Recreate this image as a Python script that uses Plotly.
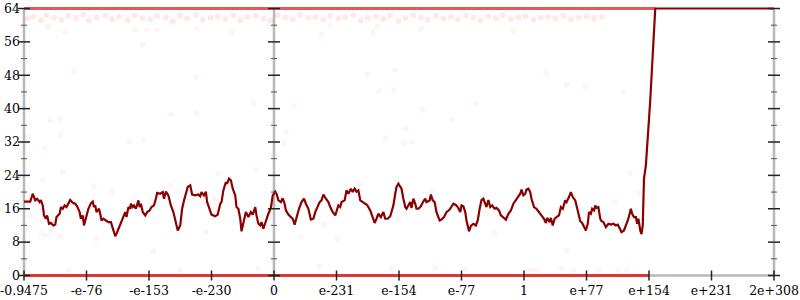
import plotly.graph_objects as go

# ---- axis labels ----
x_tick_pos = [0, 1, 2, 3, 4, 5, 6, 7, 8, 9, 10, 11, 12]
x_tick_labels = ["-0.9475", "-e-76", "-e-153", "-e-230", "0", "e-231", "e-154",
                 "e-77", "1", "e+77", "e+154", "e+231", "2e+308"]
x_range = [0, 12]
y_range = [0, 64]
y_view = [-0.6, 64.6]           # tiny pad so lines at 0 / 64 are not clipped
y_major = [0, 8, 16, 24, 32, 40, 48, 56, 64]
y_minor = [4, 12, 20, 28, 36, 44, 52, 60]
vertical_axes_at = [0, 4, 12]   # positions (in x units) of the three vertical axes

# ---- main error line (position along axis, bits of error) ----
err_x = [0, 0.1, 0.14, 0.18, 0.21, 0.25, 0.27, 0.3, 0.32, 0.35, 0.37, 0.4, 0.43, 0.47, 0.5,
         0.52, 0.57, 0.59, 0.62, 0.65, 0.68, 0.74, 0.78, 0.82, 0.85, 0.89, 0.91, 0.94, 0.96,
         0.99, 1.03, 1.07, 1.1, 1.12, 1.14, 1.16, 1.2, 1.22, 1.24, 1.27, 1.31, 1.35, 1.39,
         1.42, 1.46, 1.48, 1.53, 1.56, 1.59, 1.62, 1.64, 1.67, 1.7, 1.71, 1.74, 1.76, 1.79,
         1.83, 1.85, 1.87, 1.9, 1.94, 1.97, 2.01, 2.04, 2.08, 2.11, 2.13, 2.18, 2.22, 2.24,
         2.27, 2.31, 2.35, 2.39, 2.43, 2.46, 2.5, 2.53, 2.56, 2.59, 2.62, 2.66, 2.69, 2.74,
         2.79, 2.82, 2.84, 2.88, 2.91, 2.93, 2.98, 3.0, 3.06, 3.1, 3.14, 3.16, 3.19, 3.22,
         3.23, 3.25, 3.28, 3.31, 3.34, 3.38, 3.4, 3.43, 3.46, 3.48, 3.51, 3.55, 3.59, 3.63,
         3.66, 3.7, 3.72, 3.75, 3.78, 3.8, 3.83, 3.87, 3.91, 3.95, 3.98, 4.02, 4.04, 4.07,
         4.11, 4.14, 4.17, 4.19, 4.23, 4.27, 4.3, 4.33, 4.36, 4.4, 4.44, 4.48, 4.51, 4.55,
         4.59, 4.63, 4.66, 4.69, 4.73, 4.76, 4.79, 4.83, 4.87, 4.9, 4.94, 4.98, 5.0, 5.03,
         5.06, 5.08, 5.13, 5.16, 5.19, 5.23, 5.26, 5.29, 5.32, 5.35, 5.38, 5.42, 5.46, 5.49,
         5.54, 5.57, 5.61, 5.64, 5.67, 5.71, 5.75, 5.78, 5.82, 5.86, 5.88, 5.91, 5.94, 5.96,
         5.99, 6.02, 6.04, 6.07, 6.1, 6.12, 6.15, 6.18, 6.2, 6.23, 6.26, 6.28, 6.31, 6.35,
         6.39, 6.42, 6.44, 6.49, 6.51, 6.54, 6.57, 6.6, 6.65, 6.68, 6.72, 6.76, 6.81, 6.84,
         6.87, 6.91, 6.94, 6.98, 7.0, 7.03, 7.06, 7.08, 7.12, 7.15, 7.19, 7.23, 7.26, 7.29,
         7.32, 7.35, 7.38, 7.4, 7.43, 7.46, 7.49, 7.53, 7.56, 7.6, 7.63, 7.67, 7.71, 7.75,
         7.79, 7.83, 7.87, 7.9, 7.94, 7.96, 7.99, 8.02, 8.04, 8.07, 8.1, 8.12, 8.16, 8.2,
         8.24, 8.28, 8.32, 8.35, 8.37, 8.41, 8.43, 8.46, 8.49, 8.52, 8.56, 8.59, 8.62, 8.66,
         8.68, 8.72, 8.75, 8.78, 8.82, 8.84, 8.88, 8.9, 8.93, 8.97, 8.99, 9.02, 9.04, 9.07,
         9.09, 9.12, 9.14, 9.16, 9.19, 9.22, 9.24, 9.27, 9.31, 9.35, 9.39, 9.43, 9.47, 9.5,
         9.54, 9.56, 9.6, 9.63, 9.67, 9.71, 9.73, 9.76, 9.79, 9.81, 9.83, 9.86, 9.88, 9.9,
         9.92, 9.95, 10.02, 10.1, 12]
err_y = [17.7, 17.7, 19.6, 18.0, 18.4, 17.6, 18.1, 16.8, 14.4, 13.6, 14.4, 12.4, 12.6, 12.0, 12.2,
         14.0, 14.8, 16.4, 16.0, 16.8, 16.4, 18.1, 17.4, 17.2, 16.6, 15.2, 13.6, 14.4, 12.0,
         14.0, 16.0, 17.3, 17.7, 16.4, 16.8, 15.2, 16.0, 14.8, 13.2, 13.6, 13.2, 12.8, 12.8,
         11.2, 9.4, 10.0, 12.0, 12.8, 14.4, 15.2, 14.0, 16.4, 16.0, 17.2, 16.4, 16.8, 16.0,
         18.0, 16.4, 17.2, 15.2, 14.4, 15.2, 15.6, 16.4, 16.8, 18.4, 19.8, 19.6, 20.0, 18.4,
         20.1, 19.2, 16.8, 15.2, 12.8, 10.8, 12.0, 16.0, 18.0, 20.0, 21.2, 21.6, 19.4, 19.2,
         19.4, 19.0, 20.0, 19.2, 20.1, 17.6, 15.2, 14.6, 14.2, 14.6, 17.2, 17.6, 20.4, 21.6,
         22.4, 22.0, 23.2, 22.8, 20.8, 19.2, 16.4, 16.0, 13.6, 10.6, 12.4, 15.2, 14.0, 15.2,
         14.6, 16.4, 14.4, 12.4, 12.0, 12.8, 11.2, 13.2, 14.8, 16.2, 19.2, 20.1, 19.6, 18.0,
         17.6, 18.5, 17.2, 15.6, 14.6, 14.0, 13.6, 12.2, 14.0, 16.0, 17.6, 18.4, 17.2, 16.0,
         13.4, 13.6, 15.2, 16.4, 17.6, 18.0, 19.4, 18.4, 17.6, 16.4, 15.2, 14.4, 15.6, 16.8,
         16.4, 17.6, 18.0, 20.4, 19.6, 20.8, 20.0, 20.8, 20.1, 20.4, 18.0, 17.6, 17.2, 16.9,
         15.6, 14.4, 12.6, 13.6, 14.8, 14.0, 15.2, 13.6, 13.6, 14.2, 15.2, 16.8, 19.6, 21.2,
         22.0, 21.4, 20.8, 18.4, 16.4, 16.0, 16.9, 17.6, 16.2, 18.4, 17.2, 16.0, 16.0, 16.6,
         17.8, 18.4, 17.6, 18.0, 19.4, 18.0, 17.6, 15.2, 13.2, 13.4, 14.0, 15.2, 15.8, 16.4,
         17.2, 16.9, 16.4, 15.2, 16.8, 16.6, 15.2, 13.2, 10.6, 11.9, 12.4, 12.0, 13.2, 16.0,
         18.1, 18.4, 17.2, 16.4, 18.1, 16.4, 16.8, 16.0, 16.2, 15.6, 14.4, 14.0, 13.4, 14.8,
         15.6, 17.2, 18.0, 18.8, 19.6, 20.6, 19.2, 19.6, 20.6, 20.8, 20.0, 18.4, 16.4, 16.0,
         15.2, 14.4, 13.6, 12.6, 13.8, 12.8, 13.8, 12.0, 13.6, 14.0, 14.4, 16.4, 16.0, 18.0,
         17.6, 18.8, 20.0, 18.8, 18.0, 16.8, 14.4, 13.0, 12.6, 11.6, 10.8, 12.4, 15.2, 14.8,
         16.0, 15.6, 16.8, 16.2, 16.4, 13.6, 13.0, 12.8, 11.6, 12.4, 12.2, 12.4, 12.0, 12.2,
         11.2, 10.4, 10.8, 12.0, 13.6, 16.0, 14.8, 14.0, 14.0, 12.4, 13.6, 10.8, 9.9, 12.0,
         23.2, 26.4, 42.0, 64.0, 64.0]

# ---- dense sample bands (saturated at 64 and exact at 0) ----
top_band_x = [0, 10.1]
top_band_y = [64, 64]
bottom_band_x = [0, 10.0]
bottom_band_y = [0, 0]

# row of samples just under the top
row_x = [0.06, 0.15, 0.27, 0.36, 0.48, 0.6, 0.71, 0.83, 0.95, 1.04, 1.16, 1.3, 1.41, 1.52, 1.66,
         1.77, 1.9, 2.02, 2.13, 2.27, 2.38, 2.5, 2.61, 2.75, 2.86, 2.99, 3.1, 3.22, 3.35, 3.46,
         3.58, 3.71, 3.83, 3.94, 4.06, 4.19, 4.3, 4.42, 4.55, 4.66, 4.79, 4.9, 5.03, 5.14, 5.27,
         5.39, 5.5, 5.63, 5.75, 5.86, 5.99, 6.1, 6.23, 6.35, 6.46, 6.59, 6.71, 6.83, 6.94, 7.07,
         7.19, 7.3, 7.43, 7.55, 7.66, 7.79, 7.91, 8.02, 8.15, 8.27, 8.39, 8.5, 8.63, 8.75, 8.87,
         9.0, 9.12, 9.25]
row_y = [61.6, 62.1, 61.2, 62.4, 61.8, 61.3, 62.2, 61.7, 62.5, 61.1, 61.9, 62.3, 61.5, 62.0, 61.2,
         62.4, 61.7, 61.4, 62.2, 61.9, 61.0, 62.3, 61.6, 62.5, 61.3, 61.8, 62.1, 61.5, 62.4, 61.2,
         61.9, 62.2, 61.6, 61.1, 62.3, 61.8, 61.4, 62.5, 61.7, 62.0, 61.3, 62.2, 61.6, 61.9, 62.4,
         61.2, 61.8, 62.1, 61.5, 62.3, 61.0, 61.7, 62.4, 61.9, 61.3, 62.2, 61.6, 62.0, 61.4, 62.3,
         61.8, 61.2, 62.1, 61.7, 62.4, 61.5, 61.9, 62.2, 61.3, 61.8, 62.0, 61.6, 62.3, 61.4, 61.9,
         62.1, 61.7, 62.0]

# sparse individual samples
pts_x = [0.384, 0.656, 1.899, 0.8, 2.752, 1.776, 1.963, 2.123, 2.763, 3.333, 4.896, 4.763, 5.653,
         5.579, 6.352, 7.829, 5.499, 5.936, 5.68, 5.925, 8.352, 8.683, 8.976, 9.589, 3.669, 0.416,
         0.576, 2.347, 2.763, 0.059, 0.587, 0.325, 1.68, 1.909, 0.619, 3.109, 3.712, 0.299, 4.32,
         7.227, 6.373, 6.843, 4.192, 6.107, 4.16, 5.787, 6.08, 6.213, 0.096, 0.272, 0.347, 0.427,
         0.576, 1.152, 2.069, 1.813, 1.403, 1.12, 2.336, 2.496, 3.749, 0.709, 5.365, 4.629, 4.427,
         5.013, 4.805, 5.989, 6.523, 7.392, 7.536, 4.725, 5.883, 6.576, 7.056, 8.048, 8.128, 8.208,
         9.696, 9.845, 9.456, 8.683, 8.603, 8.789, 9.189, 9.504, 9.643, 2.912, 3.045]
pts_y = [59.7, 58.3, 55.3, 49.0, 47.4, 58.9, 58.9, 58.9, 59.1, 58.6, 59.9, 57.7, 59.8,
         58.1, 59.1, 58.7, 48.3, 49.3, 44.3, 44.3, 48.5, 45.8, 45.3, 43.9, 41.4, 37.2,
         37.6, 38.6, 39.1, 33.4, 33.7, 30.6, 32.1, 32.4, 24.8, 24.4, 25.4, 22.9, 40.6,
         41.3, 39.7, 37.4, 34.6, 35.2, 31.7, 32.8, 31.8, 32.1, 14.1, 10.1, 9.6, 10.6,
         9.3, 8.8, 5.8, 14.8, 20.2, 21.2, 21.6, 1.2, 1.6, 1.2, 22.0, 17.8, 9.3,
         8.8, 12.0, 13.7, 20.2, 14.8, 10.1, 2.2, 1.6, 1.8, 1.6, 1.2, 1.4, 1.2,
         24.4, 19.7, 17.6, 6.0, 1.6, 1.2, 1.2, 1.2, 1.4, 10.4, 18.4]

FONT = "DejaVu Serif"
AXIS_GREY = "#b8b8b8"
TICK = "#222222"
MINOR_TICK = "#555555"

fig = go.Figure()
fig.add_trace(go.Scatter(x=bottom_band_x, y=bottom_band_y, mode="lines",
                         line=dict(color="rgba(228,20,20,0.8)", width=3.2), cliponaxis=False,
                         hoverinfo="skip", showlegend=False))
fig.add_trace(go.Scatter(x=top_band_x, y=top_band_y, mode="lines",
                         line=dict(color="rgba(215,20,20,0.7)", width=3.2), cliponaxis=False,
                         hoverinfo="skip", showlegend=False))
fig.add_trace(go.Scatter(x=row_x, y=row_y, mode="markers",
                         marker=dict(color="rgba(255,0,0,0.09)", size=6), cliponaxis=False,
                         hoverinfo="skip", showlegend=False))
fig.add_trace(go.Scatter(x=pts_x, y=pts_y, mode="markers",
                         marker=dict(color="rgba(255,0,0,0.045)", size=6), cliponaxis=False,
                         hoverinfo="skip", showlegend=False))
fig.add_trace(go.Scatter(x=err_x, y=err_y, mode="lines",
                         line=dict(color="#8b0000", width=2.2), cliponaxis=False,
                         hoverinfo="skip", showlegend=False))

# ---- axis decorations: axis lines and crossing ticks, placed via axis fractions ----
shapes = []
x_span = x_range[1] - x_range[0]
yv_span = y_view[1] - y_view[0]

def yfrac(v):
    return (v - y_view[0]) / yv_span

y_lo, y_hi = yfrac(y_range[0]), yfrac(y_range[1])
# horizontal axis line at y = 0
shapes.append(dict(type="line", xref="paper", yref="paper", x0=0, x1=1, y0=y_lo, y1=y_lo,
                   line=dict(color=AXIS_GREY, width=2.5), layer="below"))
for ax_pos in vertical_axes_at:
    px = (ax_pos - x_range[0]) / x_span
    shapes.append(dict(type="line", xref="paper", yref="paper", x0=px, x1=px, y0=y_lo, y1=y_hi,
                       line=dict(color=AXIS_GREY, width=2.5), layer="below"))
    for v in y_major:
        py = yfrac(v)
        shapes.append(dict(type="line", xref="paper", yref="paper", xsizemode="pixel",
                           xanchor=px, x0=-6, x1=6, y0=py, y1=py,
                           line=dict(color=TICK, width=1.5), layer="above"))
    for v in y_minor:
        py = yfrac(v)
        shapes.append(dict(type="line", xref="paper", yref="paper", xsizemode="pixel",
                           xanchor=px, x0=-3, x1=3, y0=py, y1=py,
                           line=dict(color=MINOR_TICK, width=1), layer="above"))
for t in x_tick_pos:
    px = (t - x_range[0]) / x_span
    shapes.append(dict(type="line", xref="paper", yref="paper", ysizemode="pixel",
                       yanchor=y_lo, y0=-5, y1=5, x0=px, x1=px,
                       line=dict(color=TICK, width=1.5), layer="above"))

fig.update_layout(
    width=800, height=300,
    margin=dict(l=24, r=26, t=6, b=22, pad=0),
    paper_bgcolor="white", plot_bgcolor="white",
    showlegend=False,
    font=dict(family=FONT, size=12.5, color="black"),
    shapes=shapes,
    xaxis=dict(range=x_range, tickmode="array", tickvals=x_tick_pos,
               ticktext=x_tick_labels, ticks="", showline=False,
               showgrid=False, zeroline=False, layer="below traces",
               fixedrange=True, tickfont=dict(family=FONT, size=12.5, color="black"),
               automargin=False, ticklabeloverflow="allow", ticklabelstandoff=3),
    yaxis=dict(range=y_view, tickmode="array", tickvals=y_major, ticks="",
               showline=False, showgrid=False, zeroline=False, layer="below traces",
               fixedrange=True, tickfont=dict(family=FONT, size=12.5, color="black"),
               automargin=False, ticklabeloverflow="allow", ticklabelstandoff=3),
)

fig.write_html("out.html")
